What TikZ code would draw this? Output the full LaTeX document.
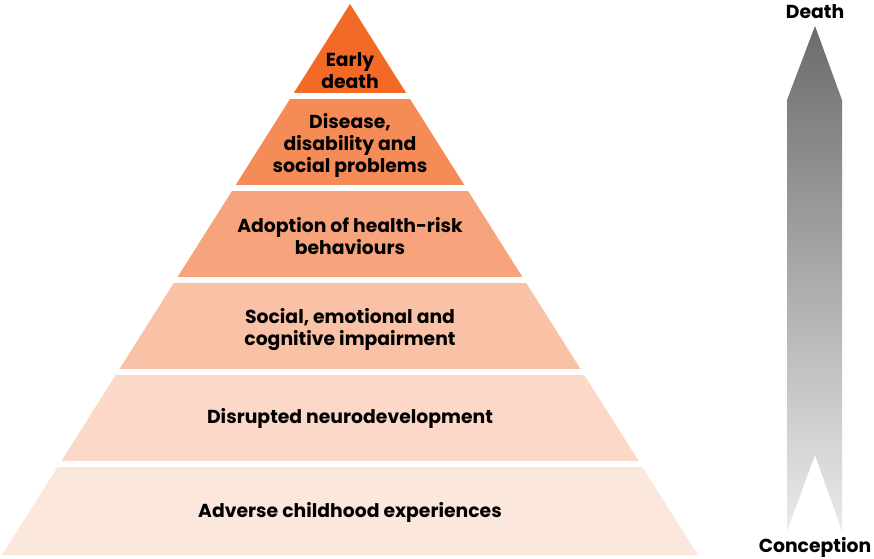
\documentclass[tikz,border=0pt]{standalone}
\usepackage{fontspec}
\setmainfont{Poppins}
\usetikzlibrary{positioning}
\definecolor{bandA}{HTML}{F26A26}
\definecolor{bandB}{HTML}{F58B56}
\definecolor{bandC}{HTML}{F7A47C}
\definecolor{bandD}{HTML}{F9C1A5}
\definecolor{bandE}{HTML}{FBD8C8}
\definecolor{bandF}{HTML}{FCE7DD}

\begin{document}
\begin{tikzpicture}[
    x=1pt, y=-1pt,
    label/.style={font=\bfseries\fontsize{18.8}{22}\selectfont, align=center, text=black, inner sep=0pt},
    endlabel/.style={font=\bfseries\fontsize{18.8}{20}\selectfont, text=black, inner sep=0pt}
]
    \useasboundingbox (0,0) rectangle (874,558);

    % Pyramid bands
    \begin{scope}
        \clip (350,4) -- (698,555) -- (2,555) -- cycle;
        \foreach \top/\bot/\col in {0/93/bandA, 99/185/bandB, 191/277/bandC,
                                    283/369/bandD, 375/461/bandE, 467/560/bandF} {
            \fill[\col] (0,\top) rectangle (874,\bot);
        }
    \end{scope}

    % Band texts
    \node[label] (early) at (350,71) {Early\\death};
    \node[label] (disease) at (350,145) {Disease,\\disability and\\social problems};
    \node[label] (adoption) at (350,236) {Adoption of health-risk\\behaviours};
    \node[label] (social) at (350,330) {Social, emotional and\\cognitive impairment};
    \node[label] (neuro) at (350,418) {Disrupted neurodevelopment};
    \node[label] (adverse) at (350,512) {Adverse childhood experiences};

    % Life course arrow
    \shade[top color=black!58, bottom color=black!8]
        (787,100) -- (815,26) -- (842,100) -- (842,531) -- (815,455) -- (787,531) -- cycle;
    \node[endlabel] (death) at (815,12) {Death};
    \node[endlabel] (conception) at (815,547) {Conception};
\end{tikzpicture}
\end{document}
